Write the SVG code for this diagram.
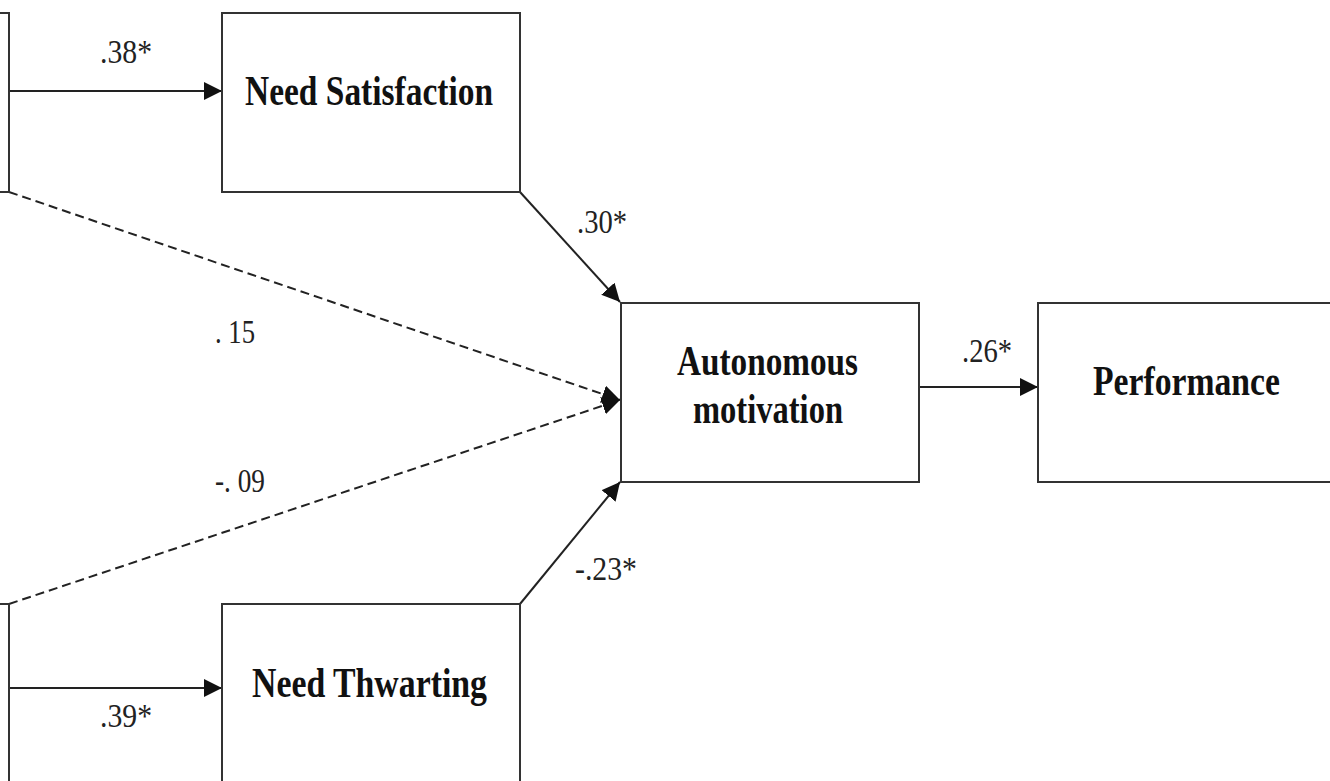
<svg xmlns="http://www.w3.org/2000/svg" width="1330" height="781" viewBox="0 0 1330 781">
  <defs>
    <marker id="arrow" markerUnits="userSpaceOnUse" markerWidth="19" markerHeight="18" refX="18" refY="9" orient="auto">
      <path d="M0,0 L18,9 L0,18 Z" fill="#111"/>
    </marker>
    <style>
      .box { fill: #fff; stroke: #333; stroke-width: 2; }
      .link { stroke: #222; stroke-width: 2; fill: none; marker-end: url(#arrow); }
      .dash { stroke-dasharray: 9 5; }
      .node-label { font-family: "Liberation Serif", "Times New Roman", serif; font-weight: bold; font-size: 42px; fill: #111; }
      .coef { font-family: "Liberation Serif", "Times New Roman", serif; font-size: 34px; fill: #222; }
    </style>
  </defs>

  <rect width="1330" height="781" fill="#fff"/>

  <!-- path connectors -->
  <g id="connectors">
    <line class="link" x1="9" y1="91" x2="222" y2="91"/>
    <line class="link" x1="9" y1="688" x2="222" y2="688"/>
    <line class="link dash" x1="9" y1="192" x2="620" y2="400"/>
    <line class="link dash" x1="9" y1="604" x2="620" y2="400"/>
    <line class="link" x1="520" y1="192" x2="620" y2="302"/>
    <line class="link" x1="520" y1="604" x2="620" y2="482"/>
    <line class="link" x1="919" y1="387" x2="1038" y2="387"/>

    <text class="coef" x="100" y="63" textLength="52" lengthAdjust="spacingAndGlyphs">.38*</text>
    <text class="coef" x="100" y="727" textLength="52" lengthAdjust="spacingAndGlyphs">.39*</text>
    <text class="coef" x="577" y="233" textLength="50" lengthAdjust="spacingAndGlyphs">.30*</text>
    <text class="coef" x="575" y="580" textLength="62" lengthAdjust="spacingAndGlyphs">-.23*</text>
    <text class="coef" x="962" y="362" textLength="50" lengthAdjust="spacingAndGlyphs">.26*</text>
    <text class="coef" x="215" y="343" textLength="40" lengthAdjust="spacingAndGlyphs">. 15</text>
    <text class="coef" x="215" y="492" textLength="50" lengthAdjust="spacingAndGlyphs">-. 09</text>
  </g>

  <!-- left-hand predictor boxes (cropped at the edge) -->
  <g id="predictor-top">
    <rect class="box" x="-20" y="13" width="29" height="179"/>
  </g>
  <g id="predictor-bottom">
    <rect class="box" x="-20" y="604" width="29" height="200"/>
  </g>

  <g id="need-satisfaction">
    <rect class="box" x="222" y="13" width="298" height="179"/>
    <text class="node-label" x="245" y="105" textLength="248" lengthAdjust="spacingAndGlyphs">Need Satisfaction</text>
  </g>

  <g id="need-thwarting">
    <rect class="box" x="222" y="604" width="298" height="200"/>
    <text class="node-label" x="252" y="697" textLength="235" lengthAdjust="spacingAndGlyphs">Need Thwarting</text>
  </g>

  <g id="autonomous-motivation">
    <rect class="box" x="621" y="303" width="298" height="179"/>
    <text class="node-label" x="677" y="375" textLength="181" lengthAdjust="spacingAndGlyphs">Autonomous</text>
    <text class="node-label" x="693" y="423" textLength="150" lengthAdjust="spacingAndGlyphs">motivation</text>
  </g>

  <g id="performance">
    <rect class="box" x="1038" y="303" width="320" height="179"/>
    <text class="node-label" x="1093" y="395" textLength="187" lengthAdjust="spacingAndGlyphs">Performance</text>
  </g>
</svg>
